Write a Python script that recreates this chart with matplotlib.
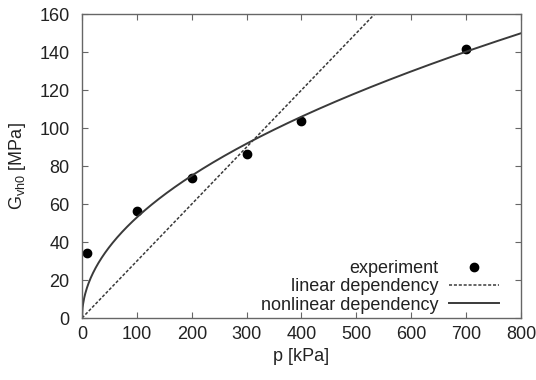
import numpy as np
import matplotlib
matplotlib.use("Agg")
import matplotlib.pyplot as plt

plt.rcParams['font.family'] = ['Liberation Sans', 'DejaVu Sans']
plt.rcParams['font.size'] = 13
plt.rcParams['mathtext.fontset'] = 'custom'
plt.rcParams['mathtext.rm'] = 'Liberation Sans'
plt.rcParams['mathtext.it'] = 'Liberation Sans'

# measured points
p_exp = [10, 100, 200, 300, 400, 700]
G_exp = [34.5, 56.5, 73.5, 86.5, 103.5, 141.5]

# fitted dependencies
lin_slope = 0.30        # G = k * p
nl_coef = 5.3           # G = A * p^n
nl_exp = 0.5

x_ticks = [0, 100, 200, 300, 400, 500, 600, 700, 800]
y_ticks = [0, 20, 40, 60, 80, 100, 120, 140, 160]

p = np.linspace(0, 800, 801)

fig = plt.figure(figsize=(5.36, 3.80), dpi=100)
ax = fig.add_axes([0.153, 0.163, 0.819, 0.800])

ink = '#3a3a3a'
ax.plot(p_exp, G_exp, 'o', color='black', markersize=6, label='experiment')
ax.plot(p, lin_slope * p, color=ink, lw=1.1, linestyle=(0, (2.0, 1.2)),
        label='linear dependency')
ax.plot(p, nl_coef * p ** nl_exp, color=ink, lw=1.4, label='nonlinear dependency')

ax.set_xlim(0, 800)
ax.set_ylim(0, 160)
ax.set_xticks(x_ticks)
ax.set_yticks(y_ticks)
ax.tick_params(direction='in', length=4, width=0.8, colors='#666666',
               labelcolor='#222222', top=True, right=True, pad=6)
ax.tick_params(axis='y', pad=9)
for s in ax.spines.values():
    s.set_color('#666666')
    s.set_linewidth(1.0)

ax.set_xlabel('p [kPa]', color='#222222', labelpad=3)
ax.set_ylabel(r'G$_{\mathregular{vh0}}$ [MPa]', color='#222222', labelpad=8)

ax.legend(loc='lower right', bbox_to_anchor=(0.957, 0.006), frameon=False,
          markerfirst=False, handlelength=2.8, handletextpad=0.6,
          labelspacing=0.06, borderpad=0.15, borderaxespad=0.0,
          labelcolor='#222222')

fig.savefig('out.png', dpi=100)
